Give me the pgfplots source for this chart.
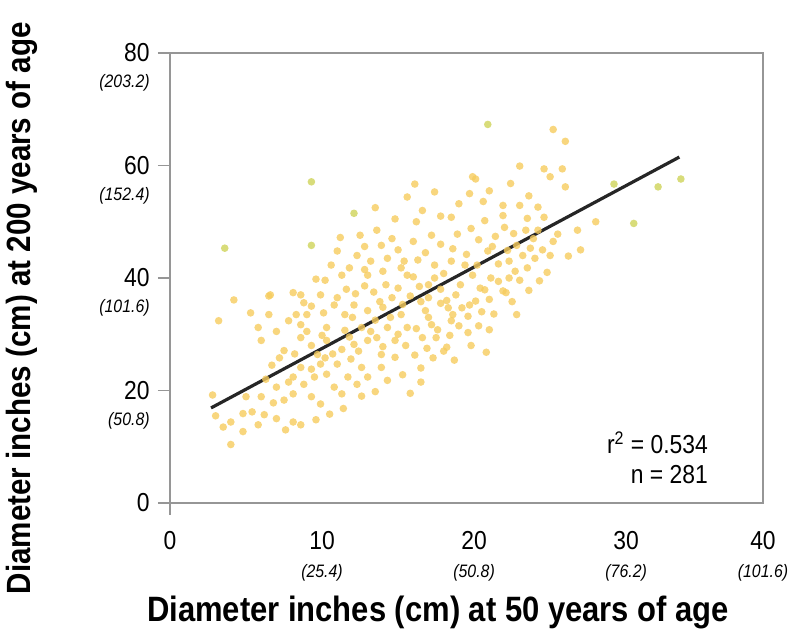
\documentclass[border=0pt]{standalone}
\usepackage{pgfplots}
\pgfplotsset{compat=1.18}
\usepackage{fontspec}
\setmainfont{Liberation Sans}[FakeStretch=0.88]
\definecolor{dot}{RGB}{246,204,94}
\definecolor{dotg}{RGB}{212,216,108}
\definecolor{axgray}{RGB}{150,150,150}
\newcommand{\cmv}[1]{{\fontsize{9}{10}\selectfont\itshape(#1)}}
\newcommand{\ylab}[1]{\makebox[0pt][r]{\raisebox{-13pt}[0pt][0pt]{\cmv{#1}}}}
\begin{document}
\begin{tikzpicture}
\begin{axis}[name=ax, scale only axis, width=296.5pt, height=225pt,
  xmin=0, xmax=39, ymin=0, ymax=80, clip=false,
  axis line style={axgray, line width=0.9pt},
  xtick={0,10,20,30,39},
  xticklabels={0,{10\\\cmv{25.4}},{20\\\cmv{50.8}},{30\\\cmv{76.2}},{40\\\cmv{101.6}}},
  xticklabel style={align=center, inner sep=0pt, yshift=-8pt},
  xtick style={draw=none},
  ytick={0,20,40,60,80},
  ytick pos=left,
  yticklabels={0,20\ylab{50.8},40\ylab{101.6},60\ylab{152.4},80\ylab{203.2}},
  yticklabel style={inner sep=0pt, xshift=-4pt},
  ytick style={axgray, line width=0.9pt},
  tick align=outside, major tick length=6pt,
  tick label style={font=\fontsize{13}{14}\selectfont},
  xlabel={Diameter inches (cm) at 50 years of age},
  ylabel={Diameter inches (cm) at 200 years of age},
  xlabel style={font=\fontsize{17.6}{19}\selectfont\bfseries, at={(axis description cs:0.452,-0.205)}, anchor=north, inner sep=0pt},
  ylabel style={font=\fontsize{16.8}{18}\selectfont\bfseries, at={(axis description cs:-0.25,0.433)}, anchor=center, inner sep=0pt},
]
\addplot[only marks, color=dot, mark=*, mark size=1.9pt, mark options={draw=dot, fill=dot, draw opacity=0, fill opacity=0.8}] table {
x y
23.0 59.9
19.9 58.0
19.7 55.0
16.1 56.7
15.6 54.4
17.4 55.3
16.6 52.0
16.2 50.0
17.2 47.6
12.5 47.6
24.6 59.4
25.2 66.4
26.0 64.3
25.8 59.4
25.0 58.0
26.0 56.2
20.1 57.6
28.0 50.0
25.2 46.5
26.2 43.9
20.6 53.6
21.9 52.9
23.0 52.9
21.9 51.1
23.5 50.6
21.4 47.4
22.6 47.9
23.9 47.0
22.2 44.9
23.2 44.0
23.7 45.3
23.0 39.6
21.9 37.7
20.7 37.9
19.6 30.3
18.7 25.4
18.6 33.5
19.7 35.2
21.1 40.0
20.2 42.3
19.1 38.8
13.9 45.8
14.3 43.5
15.4 43.0
16.3 43.2
17.4 42.3
18.5 43.0
15.6 40.5
17.4 40.0
19.9 40.5
20.9 44.8
22.3 43.0
22.7 41.2
19.4 42.3
11.0 44.8
12.3 44.0
10.6 42.3
11.3 40.5
13.2 43.0
4.2 36.1
3.2 32.4
5.3 33.8
5.8 31.2
6.0 28.9
6.5 36.8
8.1 37.4
8.8 35.6
7.5 27.1
6.7 24.5
2.8 19.2
4.0 14.4
4.8 15.9
5.4 16.2
6.2 15.7
4.8 12.7
4.0 10.4
5.0 18.9
6.0 18.9
8.1 14.4
8.6 13.9
7.0 20.6
7.5 18.3
8.1 22.4
8.6 24.1
8.1 19.4
8.8 21.1
9.3 18.9
9.9 17.6
9.5 22.4
9.9 24.7
10.3 22.9
10.8 20.6
11.3 19.4
11.7 22.4
12.3 21.1
13.0 22.4
11.0 24.7
11.9 25.6
12.6 24.1
9.7 26.4
9.3 28.0
8.6 29.4
8.6 31.7
8.3 33.5
9.0 33.5
9.3 35.0
10.1 33.8
10.8 35.2
11.5 33.5
12.1 35.2
13.0 34.2
10.3 31.2
11.5 30.7
12.6 31.2
12.1 28.2
13.0 28.9
10.3 28.9
11.3 27.3
6.6 37.0
9.9 37.0
8.6 37.0
22.1 37.4
18.2 27.7
17.5 29.4
16.1 26.3
16.6 29.4
14.8 25.9
13.9 24.1
15.6 31.2
17.2 31.7
18.5 32.4
19.2 34.7
20.1 35.9
18.3 34.7
16.8 34.2
15.2 33.5
14.3 31.2
13.6 29.4
14.8 28.9
13.9 26.4
13.5 32.5
14.0 34.8
14.6 36.5
15.0 38.2
15.8 36.8
16.4 38.5
17.0 36.5
17.8 38.0
18.2 36.0
14.2 38.8
13.4 37.5
12.8 38.6
12.2 37.2
11.6 38.0
13.0 40.5
14.0 41.2
15.0 45.0
16.0 46.5
14.6 47.0
13.6 48.5
12.8 41.5
15.5 28.0
16.2 31.0
17.0 33.0
17.8 35.5
18.8 37.0
16.5 35.8
15.3 35.3
14.5 33.0
13.2 30.5
12.4 27.0
11.8 29.5
14.0 27.8
15.0 30.0
16.9 27.5
17.6 30.8
18.4 29.8
19.0 31.5
19.6 33.2
20.5 34.0
21.0 36.2
20.4 38.2
21.6 39.4
22.3 40.0
23.5 41.8
24.0 43.5
24.5 45.0
24.2 48.5
24.8 41.0
22.8 45.8
21.6 42.5
21.2 45.6
20.3 46.8
19.5 44.2
18.6 45.2
18.0 40.8
17.0 38.8
16.0 40.2
15.2 41.8
16.8 44.5
17.8 46.0
18.9 47.8
19.8 48.8
20.7 50.2
22.0 49.0
23.4 48.5
24.6 50.8
25.5 47.8
25.0 44.0
24.3 39.5
23.6 37.8
21.3 33.6
22.5 35.8
20.3 31.5
18.0 27.0
17.3 25.8
16.5 24.0
15.3 22.8
14.3 21.8
13.5 19.8
12.6 19.0
11.4 16.8
10.5 15.8
9.6 14.8
7.6 13.0
7.0 15.0
6.8 17.8
5.8 13.9
3.5 13.5
3.0 15.5
7.8 21.5
6.3 22.0
7.2 25.8
8.2 26.5
9.0 30.5
10.0 29.8
10.7 26.5
10.2 25.8
9.3 23.8
12.0 33.0
13.8 35.8
11.0 36.5
11.8 41.8
10.2 39.6
9.6 39.8
7.8 32.4
7.0 30.5
6.5 33.5
12.8 45.6
14.8 50.5
13.5 52.5
11.2 47.2
18.5 50.8
19.0 53.2
17.8 51.0
21.0 55.5
22.4 56.8
23.6 54.6
24.2 52.6
26.8 48.5
27.0 45.0
15.8 19.5
16.5 21.5
19.8 28.0
21.0 30.8
22.8 33.5
20.8 26.8
};
\addplot[only marks, color=dotg, mark=*, mark size=1.9pt, mark options={draw=dotg, fill=dotg, draw opacity=0, fill opacity=0.9}] table {
x y
3.6 45.3
9.3 57.1
20.9 67.3
9.3 45.8
12.1 51.5
32.1 56.2
33.6 57.6
30.5 49.7
29.2 56.7
};
\addplot[black!85, line width=1.6pt] coordinates {(2.7,16.9) (33.5,61.5)};
\node[anchor=east, inner sep=0pt, font=\fontsize{13}{14}\selectfont] at (axis cs:35.4,10.7) {r\textsuperscript{2} = 0.534};
\node[anchor=east, inner sep=0pt, font=\fontsize{13}{14}\selectfont] at (axis cs:35.4,5.0) {n = 281};
\draw[axgray, line width=0.9pt] (axis cs:0,0) -- ++(0,-6pt);
\end{axis}
\path (ax.south west) ++(-85pt,-70pt) rectangle ++(402pt,321.5pt);
\end{tikzpicture}
\end{document}
